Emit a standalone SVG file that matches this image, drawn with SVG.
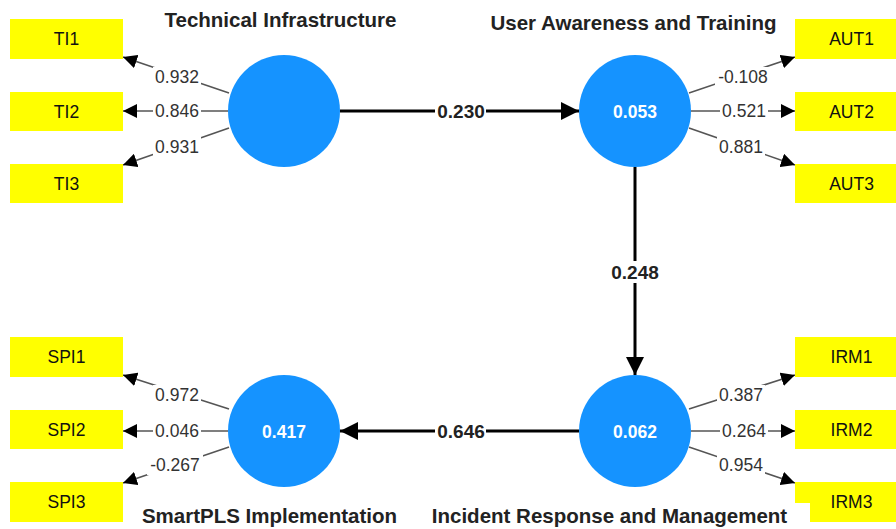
<svg xmlns="http://www.w3.org/2000/svg" width="896" height="529" viewBox="0 0 896 529">
<defs>
<style>
.ind{fill:#ffff00}
.ind text,.itxt{font-family:"Liberation Sans",Arial,sans-serif;font-size:17.5px;fill:#111;text-anchor:middle}
.lv{fill:#1593ff}
.lvv{font-family:"Liberation Sans",Arial,sans-serif;font-size:17.5px;font-weight:bold;fill:#fff;text-anchor:middle}
.ttl{font-family:"Liberation Sans",Arial,sans-serif;font-size:20.5px;font-weight:bold;fill:#222;text-anchor:middle}
.load{stroke:#555;stroke-width:1.6;fill:none;marker-end:url(#sa)}
.path{stroke:#000;stroke-width:3;fill:none;marker-end:url(#ba)}
.ltxt{font-family:"Liberation Sans",Arial,sans-serif;font-size:17.5px;fill:#333;text-anchor:middle}
.ptxt{font-family:"Liberation Sans",Arial,sans-serif;font-size:19px;font-weight:bold;fill:#222;text-anchor:middle}
.bg{fill:#fff}
</style>
<marker id="ba" markerUnits="userSpaceOnUse" markerWidth="18" markerHeight="18" refX="18" refY="9" orient="auto" viewBox="0 0 18 18"><path d="M0,0 L18,9 L0,18 z" fill="#000"/></marker>
<marker id="sa" markerUnits="userSpaceOnUse" markerWidth="14" markerHeight="14" refX="14" refY="7" orient="auto" viewBox="0 0 14 14"><path d="M0,0 L14,7 L0,14 z" fill="#000"/></marker>
</defs>
<rect width="896" height="529" fill="#fff"/>

<g id="connectors">
<line class="path" x1="340" y1="111" x2="579" y2="111"/>
<rect class="bg" x="435" y="100" width="51" height="22"/>
<text class="ptxt" x="461" y="118">0.230</text>
<line class="path" x1="635" y1="167" x2="635" y2="375"/>
<rect class="bg" x="609" y="261" width="52" height="22"/>
<text class="ptxt" x="635" y="279">0.248</text>
<line class="path" x1="579" y1="431" x2="340" y2="431"/>
<rect class="bg" x="435" y="420" width="51" height="22"/>
<text class="ptxt" x="461" y="438">0.646</text>

<line class="load" x1="229" y1="93" x2="123" y2="57"/>
<line class="load" x1="228" y1="111" x2="123" y2="111"/>
<line class="load" x1="229" y1="128" x2="123" y2="165"/>
<line class="load" x1="689" y1="93" x2="795" y2="57"/>
<line class="load" x1="691" y1="111" x2="795" y2="111"/>
<line class="load" x1="689" y1="128" x2="795" y2="165"/>
<line class="load" x1="229" y1="409" x2="123" y2="375"/>
<line class="load" x1="228" y1="431" x2="123" y2="431"/>
<line class="load" x1="229" y1="447" x2="123" y2="483"/>
<line class="load" x1="689" y1="409" x2="795" y2="375"/>
<line class="load" x1="691" y1="431" x2="795" y2="431"/>
<line class="load" x1="689" y1="447" x2="795" y2="483"/>

<rect class="bg" x="153" y="67" width="48" height="20"/>
<text class="ltxt" x="177" y="83">0.932</text>
<rect class="bg" x="153" y="101" width="48" height="20"/>
<text class="ltxt" x="177" y="117">0.846</text>
<rect class="bg" x="153" y="137" width="48" height="20"/>
<text class="ltxt" x="177" y="153">0.931</text>

<rect class="bg" x="715" y="67" width="56" height="20"/>
<text class="ltxt" x="743" y="83">-0.108</text>
<rect class="bg" x="720" y="101" width="48" height="20"/>
<text class="ltxt" x="744" y="117">0.521</text>
<rect class="bg" x="717" y="137" width="48" height="20"/>
<text class="ltxt" x="741" y="153">0.881</text>

<rect class="bg" x="153" y="385" width="48" height="20"/>
<text class="ltxt" x="177" y="401">0.972</text>
<rect class="bg" x="153" y="421" width="48" height="20"/>
<text class="ltxt" x="177" y="437">0.046</text>
<rect class="bg" x="147" y="455" width="56" height="20"/>
<text class="ltxt" x="175" y="471">-0.267</text>

<rect class="bg" x="717" y="385" width="48" height="20"/>
<text class="ltxt" x="741" y="401">0.387</text>
<rect class="bg" x="720" y="421" width="48" height="20"/>
<text class="ltxt" x="744" y="437">0.264</text>
<rect class="bg" x="717" y="455" width="48" height="20"/>
<text class="ltxt" x="741" y="471">0.954</text>
</g>

<g id="TI">
<circle class="lv" cx="284" cy="111" r="56"/>
<text class="ttl" x="280.5" y="27">Technical Infrastructure</text>
</g>
<g id="AUT">
<circle class="lv" cx="635" cy="111" r="56"/>
<text class="lvv" x="635" y="118">0.053</text>
<text class="ttl" x="633.5" y="30">User Awareness and Training</text>
</g>
<g id="SPI">
<circle class="lv" cx="284" cy="431" r="56"/>
<text class="lvv" x="284" y="438">0.417</text>
<text class="ttl" x="269.5" y="523">SmartPLS Implementation</text>
</g>
<g id="IRM">
<circle class="lv" cx="635" cy="431" r="56"/>
<text class="lvv" x="635" y="438">0.062</text>
</g>

<g id="TI1" class="ind"><rect x="10" y="19" width="113" height="40"/><text x="66.5" y="45">TI1</text></g>
<g id="TI2" class="ind"><rect x="10" y="92" width="113" height="39"/><text x="66.5" y="118">TI2</text></g>
<g id="TI3" class="ind"><rect x="10" y="164" width="113" height="39"/><text x="66.5" y="190">TI3</text></g>
<g id="AUT1" class="ind"><rect x="795" y="19" width="113" height="40"/><text x="851.5" y="45">AUT1</text></g>
<g id="AUT2" class="ind"><rect x="795" y="92" width="113" height="39"/><text x="851.5" y="118">AUT2</text></g>
<g id="AUT3" class="ind"><rect x="795" y="164" width="113" height="39"/><text x="851.5" y="190">AUT3</text></g>
<g id="SPI1" class="ind"><rect x="10" y="337" width="113" height="40"/><text x="66.5" y="363">SPI1</text></g>
<g id="SPI2" class="ind"><rect x="10" y="410" width="113" height="39"/><text x="66.5" y="436">SPI2</text></g>
<g id="SPI3" class="ind"><rect x="10" y="482" width="113" height="40"/><text x="66.5" y="508">SPI3</text></g>
<g id="IRM1" class="ind"><rect x="795" y="337" width="113" height="40"/><text x="851.5" y="363">IRM1</text></g>
<g id="IRM2" class="ind"><rect x="795" y="410" width="113" height="39"/><text x="851.5" y="436">IRM2</text></g>
<g id="IRM3" class="ind"><path d="M795,482 H908 V522 H810 V503 H795 Z"/><text x="851.5" y="508">IRM3</text></g>

<g id="IRM-label">
<text class="ttl" x="609.5" y="523">Incident Response and Management</text>
</g>
</svg>
